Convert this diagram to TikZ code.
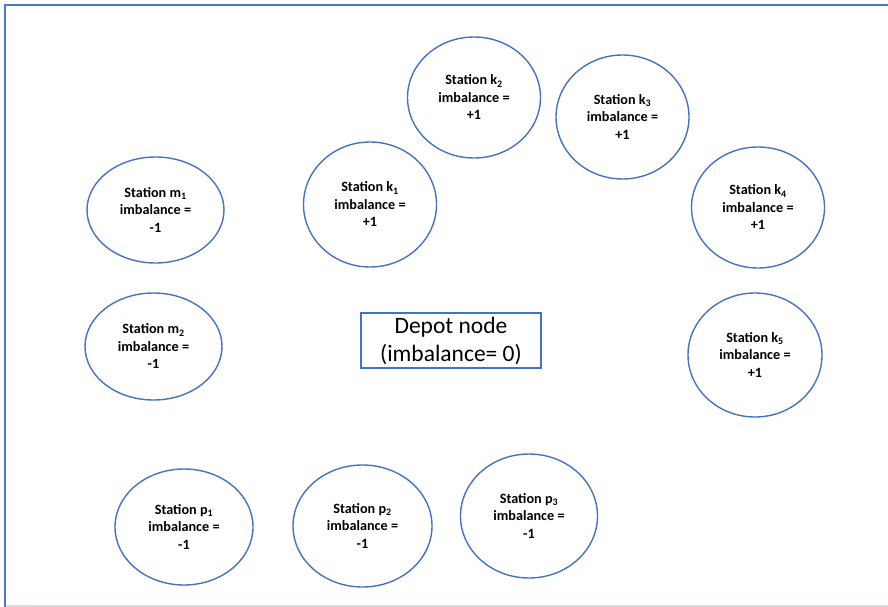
\documentclass[tikz,border=0pt]{standalone}
\usepackage{fontspec}
\setmainfont{Carlito}
\usepackage{xcolor}
\usepackage{tikz}
\usetikzlibrary{shapes.geometric}
\definecolor{ringblue}{RGB}{68,114,196}
\definecolor{frameblue}{RGB}{80,118,200}
\definecolor{framegrey}{RGB}{212,220,232}

\begin{document}
\begin{tikzpicture}[x=1pt,y=-1pt, every node/.style={font=\fontsize{14.2}{17.5}\selectfont\bfseries}]
  \tikzstyle{stationnode}=[ellipse, draw=ringblue, line width=1.4pt, minimum width=134pt, minimum height=122pt, inner sep=1pt, align=center]
  \useasboundingbox (0,0) rectangle (888,607);
  % screenshot frame
  \draw[frameblue, line width=2pt] (5,607) -- (5,5) -- (888,5);
  \draw[framegrey, line width=1.5pt] (6,606) -- (888,606);
  % left column
  \node[stationnode, minimum width=137pt, minimum height=106pt] (m1) at (155.5,210) {Station m\textsubscript{1}\\imbalance =\\-1};
  \node[stationnode, minimum width=137pt, minimum height=107pt] (m2) at (153.5,346.5) {Station m\textsubscript{2}\\imbalance =\\-1};
  % upper arc
  \node[stationnode, minimum width=133pt, minimum height=125pt] (k1) at (370,204.5) {Station k\textsubscript{1}\\imbalance =\\+1};
  \node[stationnode, minimum width=133pt, minimum height=121pt] (k2) at (474,97.5) {Station k\textsubscript{2}\\imbalance =\\+1};
  \node[stationnode, minimum width=133pt, minimum height=124pt] (k3) at (622.5,117) {Station k\textsubscript{3}\\imbalance =\\+1};
  \node[stationnode, minimum width=133pt, minimum height=121pt] (k4) at (758,207.5) {Station k\textsubscript{4}\\imbalance =\\+1};
  \node[stationnode, minimum width=134pt, minimum height=124pt] (k5) at (755,355) {Station k\textsubscript{5}\\imbalance =\\+1};
  % bottom row
  \node[stationnode, minimum width=138pt, minimum height=116pt] (p1) at (184,527) {Station p\textsubscript{1}\\imbalance =\\-1};
  \node[stationnode, minimum width=139pt, minimum height=122pt] (p2) at (362.5,526) {Station p\textsubscript{2}\\imbalance =\\-1};
  \node[stationnode, minimum width=137pt, minimum height=124pt] (p3) at (529,516) {Station p\textsubscript{3}\\imbalance =\\-1};
  % depot
  \node[draw=ringblue, line width=1.1pt, minimum width=180pt, minimum height=55pt, inner sep=1pt, align=center, font=\fontsize{23.5}{28}\selectfont] (depot) at (451,340.5) {Depot node\\(imbalance= 0)};
\end{tikzpicture}
\end{document}
